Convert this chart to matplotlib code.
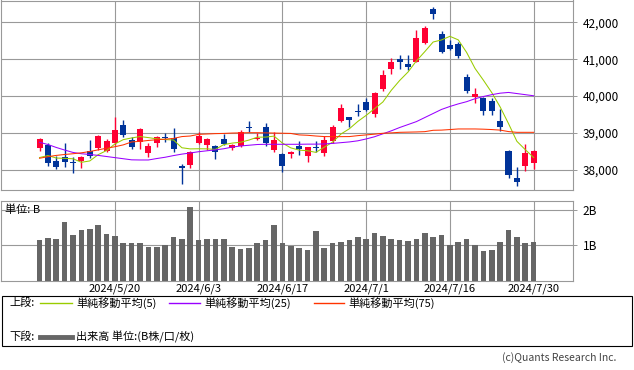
import numpy as np
import matplotlib
matplotlib.use("Agg")
import matplotlib.pyplot as plt
from matplotlib.patches import Rectangle
from matplotlib.lines import Line2D

plt.rcParams['font.family'] = ['Noto Sans CJK JP', 'DejaVu Sans']

# daily candles 2024/5/7 .. 2024/7/30
opens = [38604, 38677, 38244, 38352, 38210, 38244, 38515, 38604, 38523, 38730,
         39219, 38813, 38760, 38469, 38740, 38880, 38859, 38109, 38136, 38723,
         38677, 38650, 38840, 38604, 38660, 39173, 38830, 39173, 38542, 38434,
         38434, 38650, 38380, 38620, 38469, 38794, 39335, 39427, 39607, 39850,
         39509, 40202, 40744, 41006, 40871, 40933, 41431, 42360, 41683, 41385,
         41412, 40511, 39969, 39958, 39877, 39327, 38523, 37775, 38109, 38198]
highs = [38875, 38740, 38370, 38740, 38344, 38380, 38813, 38957, 38832, 39437,
         39354, 38903, 39130, 38723, 38921, 38990, 39140, 38155, 38523, 39029,
         38875, 38677, 38984, 38713, 39083, 39327, 38994, 39264, 39038, 38452,
         38523, 38786, 38631, 38786, 38921, 39219, 39788, 39430, 39788, 39942,
         40121, 40708, 41025, 41115, 41115, 41791, 41900, 42426, 41764, 41521,
         41475, 40600, 40213, 39985, 39960, 39660, 38542, 38073, 38696, 38530]
lows = [38523, 38117, 38020, 38082, 37930, 38063, 38317, 38542, 38479, 38680,
        38900, 38570, 38570, 38361, 38631, 38770, 38496, 37610, 38063, 38713,
        38542, 38298, 38669, 38533, 38631, 39038, 38813, 38660, 38496, 37950,
        38317, 38406, 38225, 38479, 38388, 38723, 39300, 39173, 39471, 39600,
        39427, 40140, 40592, 40744, 40708, 40917, 41412, 42089, 41177, 41250,
        41041, 40094, 39807, 39490, 39490, 39065, 37775, 37567, 37981, 38019]
closes = [38835, 38202, 38074, 38229, 38179, 38356, 38386, 38920, 38787, 39070,
          38947, 38617, 39103, 38646, 38900, 38855, 38557, 38054, 38488, 38923,
          38837, 38490, 38704, 38684, 39038, 39135, 38877, 38720, 38815, 38102,
          38482, 38571, 38633, 38596, 38805, 39173, 39667, 39342, 39583, 39631,
          40075, 40581, 40914, 40912, 40781, 41580, 41832, 42224, 41191, 41275,
          41098, 40126, 40064, 39599, 39594, 39155, 37870, 37667, 38469, 38526]

ma5 = [38337, 38391, 38324, 38315, 38304, 38208, 38245, 38414, 38526, 38704,
       38822, 38868, 38905, 38877, 38843, 38824, 38812, 38602, 38571, 38575,
       38572, 38558, 38688, 38728, 38751, 38810, 38888, 38891, 38917, 38730,
       38599, 38538, 38521, 38477, 38617, 38756, 38975, 39117, 39314, 39479,
       39660, 39842, 40157, 40423, 40653, 40954, 41204, 41466, 41522, 41620,
       41524, 41183, 40751, 40432, 40096, 39708, 39256, 38777, 38551, 38337]
ma25 = [38750, 38690, 38610, 38540, 38475, 38440, 38420, 38395, 38365, 38335,
        38305, 38275, 38271, 38271, 38310, 38345, 38390, 38430, 38460, 38495,
        38520, 38545, 38575, 38620, 38650, 38670, 38690, 38696, 38696, 38696,
        38696, 38696, 38700, 38700, 38705, 38720, 38740, 38760, 38790, 38840,
        38900, 38980, 39060, 39150, 39230, 39310, 39420, 39530, 39640, 39720,
        39790, 39850, 39930, 39990, 40040, 40080, 40100, 40070, 40040, 40010]
ma75 = [38317, 38360, 38395, 38420, 38440, 38465, 38500, 38545, 38590, 38630,
        38680, 38760, 38775, 38800, 38820, 38835, 38855, 38905, 38920, 38965,
        38975, 38985, 38990, 39000, 39005, 39010, 39010, 39005, 39000, 38995,
        38990, 38950, 38940, 38920, 38905, 38903, 38903, 38905, 38930, 38950,
        38970, 38994, 39005, 39020, 39025, 39030, 39038, 39075, 39080, 39095,
        39111, 39111, 39111, 39105, 39095, 39080, 39040, 39020, 39020, 39020]

# volume in billions
volume = [1.16, 1.22, 1.19, 1.66, 1.30, 1.44, 1.47, 1.58, 1.33, 1.27,
          1.08, 1.08, 1.08, 0.96, 0.96, 1.02, 1.24, 1.19, 2.08, 1.16,
          1.19, 1.19, 1.19, 0.96, 0.91, 0.94, 1.08, 1.16, 1.58, 1.08,
          0.99, 0.94, 0.88, 1.41, 0.94, 1.08, 1.10, 1.16, 1.24, 1.19,
          1.36, 1.27, 1.19, 1.16, 1.13, 1.19, 1.36, 1.24, 1.30, 1.02,
          1.10, 1.19, 1.02, 0.85, 0.88, 1.10, 1.44, 1.24, 1.08, 1.10]

date_ticks = [9, 19, 29, 39, 49, 59]
date_labels = ['2024/5/20', '2024/6/3', '2024/6/17', '2024/7/1', '2024/7/16', '2024/7/30']
price_ticks = [38000, 39000, 40000, 41000, 42000]
price_labels = ['38,000', '39,000', '40,000', '41,000', '42,000']

UP = '#ff0033'
DOWN = '#003399'
GRID = '#999999'

W, H = 634, 370
fig = plt.figure(figsize=(W / 100, H / 100), dpi=100)

def box(x0, y0, x1, y1):
    # pixel box -> figure fraction
    return [x0 / W, 1 - y1 / H, (x1 - x0) / W, (y1 - y0) / H]

ax = fig.add_axes(box(1, 0.5, 573, 190))
axv = fig.add_axes(box(1, 201, 573, 281))

x = np.arange(len(closes))
o = np.array(opens)
c = np.array(closes)
cols = [UP if cc >= oo else DOWN for oo, cc in zip(o, c)]

ax.vlines(x, lows, highs, colors=cols, lw=1.0, zorder=3)
ax.bar(x, np.maximum(np.abs(c - o), 20), bottom=np.minimum(o, c), width=0.72,
       color=cols, zorder=4)
ax.plot(x, ma5, color='#99cc00', lw=0.75, zorder=5)
ax.plot(x, ma25, color='#9900ff', lw=0.75, zorder=5)
ax.plot(x, ma75, color='#ff3300', lw=0.75, zorder=5)

ax.set_xlim(-4.6, 63.7)
ax.set_ylim(37458, 42590)
ax.set_yticks(price_ticks)
ax.set_yticklabels(price_labels)
ax.set_xticks(date_ticks)
ax.set_xticklabels([])
ax.tick_params(axis='x', length=0)

axv.bar(x, volume, width=0.68, color='#666666', zorder=3)
axv.set_xlim(-4.6, 63.7)
axv.set_ylim(0, 2.25)
axv.set_yticks([1, 2])
axv.set_yticklabels(['1B', '2B'])
axv.set_xticks(date_ticks)
axv.set_xticklabels(date_labels)
axv.tick_params(axis='x', length=0, pad=1.5, labelsize=8)
axv.text(0.007, 0.89, '単位: B', transform=axv.transAxes, fontsize=8,
         va='center', ha='left', zorder=6)

for a in (ax, axv):
    a.yaxis.tick_right()
    a.tick_params(axis='y', length=3, width=0.7, color=GRID, pad=4, labelsize=8.5)
    a.grid(True, color=GRID, lw=0.8, zorder=0)
    a.set_axisbelow(True)
    for s in a.spines.values():
        s.set_color(GRID)
        s.set_linewidth(0.8)

# legend box
fig.patches.append(Rectangle((2 / W, 1 - 346 / H), 630 / W, 50 / H,
                             transform=fig.transFigure, fill=False,
                             edgecolor='black', lw=0.8))
ly1 = 1 - 303 / H
ly2 = 1 - 337 / H
fig.text(9 / W, ly1, '上段:', fontsize=8, va='center')
fig.text(9 / W, ly2, '下段:', fontsize=8, va='center')
legend_items = [(40, 72, '#99cc00', 1.0, '単純移動平均(5)'),
                (169, 200, '#9900ff', 1.0, '単純移動平均(25)'),
                (314, 344, '#ff3300', 1.0, '単純移動平均(75)')]
for x0, x1, col, lw, label in legend_items:
    fig.add_artist(Line2D([x0 / W, x1 / W], [ly1, ly1], color=col, lw=lw,
                          transform=fig.transFigure))
    fig.text((x1 + 4) / W, ly1, label, fontsize=8, va='center')
fig.add_artist(Line2D([40 / W, 72 / W], [ly2, ly2], color='#666666', lw=3.5,
                      transform=fig.transFigure))
fig.text(76 / W, ly2, '出来高 単位:(B株/口/枚)', fontsize=8, va='center')

fig.text(616 / W, 1 - 358 / H, '(c)Quants Research Inc.', fontsize=7.5,
         color='#444444', ha='right', va='center')

fig.savefig('out.png', dpi=100)
